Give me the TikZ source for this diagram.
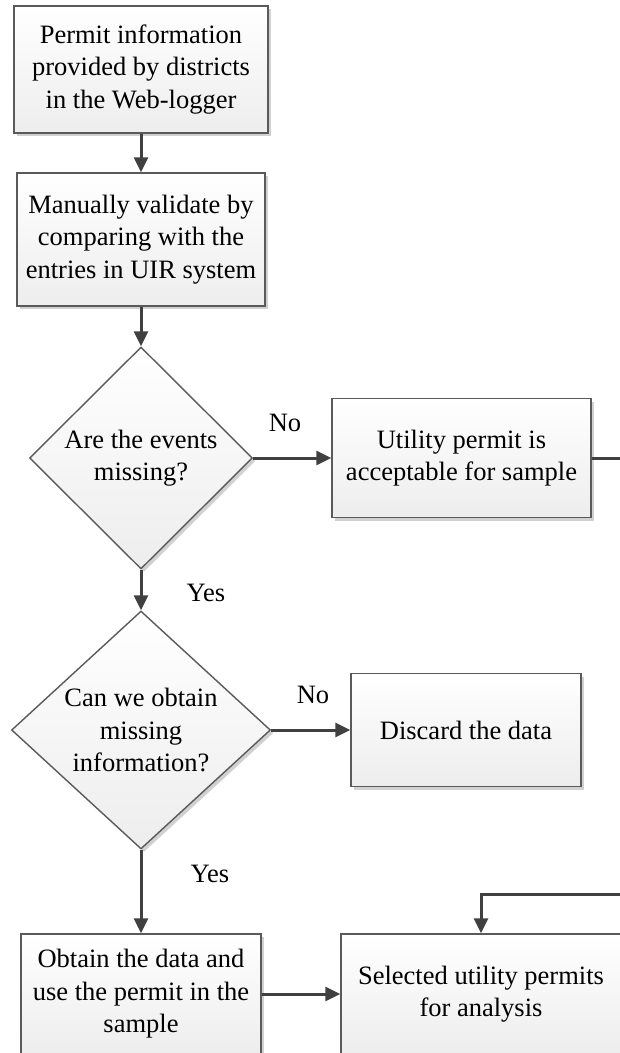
\documentclass[tikz,border=0pt]{standalone}
\usepackage{fontspec}
\setmainfont{Liberation Serif}
\usetikzlibrary{arrows.meta,shapes.geometric,shadows}
\definecolor{edgegray}{HTML}{5A5A5A}
\definecolor{linegray}{HTML}{404040}

\begin{document}
\begin{tikzpicture}[
    x=1pt, y=-1pt,
    >={Triangle[length=15pt,width=14pt]},
    flow/.style={line width=3pt, draw=linegray, ->},
    block/.style={rectangle, draw=edgegray, line width=1.4pt,
      top color=white, bottom color=gray!14,
      drop shadow={shadow xshift=3pt, shadow yshift=-3pt, fill=black!18, opacity=1},
      align=center, inner sep=0pt, font=\fontsize{26.5}{32.5}\selectfont},
    decision/.style={block, diamond},
    tag/.style={font=\fontsize{26.5}{32.5}\selectfont}
  ]

  \useasboundingbox (0,0) rectangle (619,1053);

  % main column
  \node[block, minimum width=254pt, minimum height=127pt] (permit) at (141,69.5)
    {Permit information\\provided by districts\\in the Web-logger};
  \node[block, minimum width=248pt, minimum height=133pt] (validate) at (141,239.5)
    {Manually validate by\\comparing with the\\entries in UIR system};
  \node[decision, minimum width=223pt, minimum height=222pt] (missing) at (141,458)
    {Are the events\\missing?};
  \node[decision, aspect=1.1, minimum width=259pt, minimum height=238pt] (canobtain) at (141,730)
    {Can we obtain\\missing\\information?};
  \node[block, minimum width=240pt, minimum height=120pt] (getdata) at (141,994)
    {Obtain the data and\\use the permit in the\\sample};

  % right column
  \node[block, minimum width=259pt, minimum height=119pt] (acceptable) at (461.5,458)
    {Utility permit is\\acceptable for sample};
  \node[block, minimum width=230pt, minimum height=113pt] (discard) at (466,730)
    {Discard the data};
  \node[block, minimum width=280pt, minimum height=120pt] (selected) at (481,994)
    {Selected utility permits\\for analysis};

  % labels
  \node[tag] (no1) at (285,423) {No};
  \node[tag] (yes1) at (206,593) {Yes};
  \node[tag] (no2) at (313,695) {No};
  \node[tag] (yes2) at (210,874) {Yes};

  \coordinate (loop) at (640,894);

  \draw[flow] (permit.south) -- (validate.north);
  \draw[flow] (validate.south) -- (missing.north);
  \draw[flow] (missing.east) -- (acceptable.west);
  \draw[flow] (missing.south) -- (canobtain.north);
  \draw[flow] (canobtain.east) -- (discard.west);
  \draw[flow] (canobtain.south) -- (getdata.north);
  \draw[flow] (getdata.east) -- (selected.west);
  \draw[flow] (acceptable.east) -| (loop) -| (selected.north);

\end{tikzpicture}
\end{document}
